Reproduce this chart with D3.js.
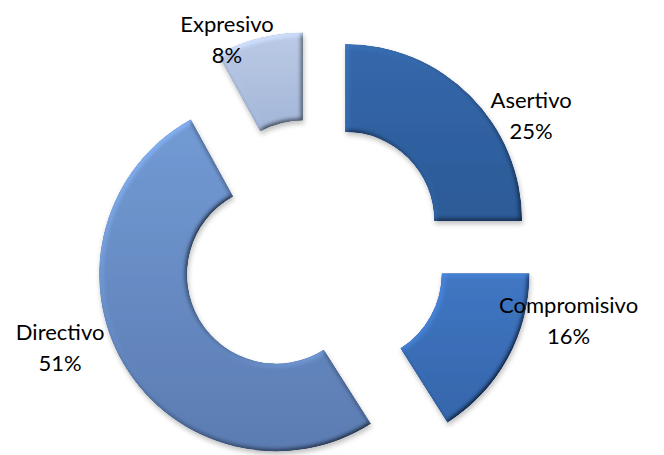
<!DOCTYPE html>
<html>
<head>
<meta charset="utf-8">
<script src="https://cdn.jsdelivr.net/npm/d3@7"></script>
<style>
  html, body { margin: 0; padding: 0; background: #ffffff; }
  svg { display: block; }
  text { font-family: Lato, "Open Sans", sans-serif; fill: #000; }
</style>
</head>
<body>
<svg id="chart" width="664" height="455"></svg>
<script>
// Estilos de comunicación: share of each style
const categories = ["Asertivo", "Compromisivo", "Directivo", "Expresivo"];
const values = [25, 16, 51, 8];
const percentLabels = ["25%", "16%", "51%", "8%"];

// Fill colours per slice (top, bottom of the gradient)
const colorsTop = ["#3568ab", "#4077c4", "#739bd5", "#bccbe6"];
const colorsBottom = ["#2c5a97", "#3566ab", "#5b7cb2", "#a2b6d8"];

// Layout
const width = 664, height = 455;
const cx = 314, cy = 252;
const outerR = 177, innerR = 89;
const explode = 44;
// Label anchor offsets (first baseline), relative to each slice's own centre
const labelOffsets = [[186, -113], [216, 40], [-216, 66], [-76, -177]];
const lineGap = 31;

const svg = d3.select("#chart");
const defs = svg.append("defs");

// Bevel + soft drop shadow
const f = defs.append("filter")
  .attr("id", "bevel")
  .attr("x", "-20%").attr("y", "-20%")
  .attr("width", "140%").attr("height", "140%");
f.append("feGaussianBlur").attr("in", "SourceAlpha").attr("stdDeviation", 2.4).attr("result", "blur");
f.append("feOffset").attr("in", "blur").attr("dx", 1).attr("dy", 3).attr("result", "offBlur");
f.append("feFlood").attr("flood-color", "#000").attr("flood-opacity", 0.25).attr("result", "shCol");
f.append("feComposite").attr("in", "shCol").attr("in2", "offBlur").attr("operator", "in").attr("result", "shadow");
const light = f.append("feDiffuseLighting")
  .attr("in", "blur").attr("surfaceScale", 3).attr("diffuseConstant", 1)
  .attr("lighting-color", "#fff").attr("result", "diffuse");
light.append("feDistantLight").attr("azimuth", 225).attr("elevation", 50);
f.append("feComposite")
  .attr("in", "SourceGraphic").attr("in2", "diffuse")
  .attr("operator", "arithmetic")
  .attr("k1", 1.3).attr("k2", 0).attr("k3", 0).attr("k4", 0)
  .attr("result", "lit");
f.append("feComposite").attr("in", "lit").attr("in2", "SourceAlpha").attr("operator", "in").attr("result", "litIn");
const merge = f.append("feMerge");
merge.append("feMergeNode").attr("in", "shadow");
merge.append("feMergeNode").attr("in", "litIn");

categories.forEach((c, i) => {
  const g = defs.append("linearGradient")
    .attr("id", "grad" + i)
    .attr("x1", 0).attr("y1", 0).attr("x2", 0).attr("y2", 1);
  g.append("stop").attr("offset", "0%").attr("stop-color", colorsTop[i]);
  g.append("stop").attr("offset", "100%").attr("stop-color", colorsBottom[i]);
});

const pie = d3.pie().sort(null).value(d => d.value).startAngle(0).endAngle(2 * Math.PI);
const arc = d3.arc().innerRadius(innerR).outerRadius(outerR);

const data = categories.map((c, i) => ({ name: c, value: values[i], label: percentLabels[i], idx: i }));
const arcs = pie(data);

function sliceCentre(a) {
  const mid = (a.startAngle + a.endAngle) / 2;
  return [cx + explode * Math.sin(mid), cy - explode * Math.cos(mid)];
}

const slices = svg.append("g").selectAll("g.slice")
  .data(arcs)
  .join("g")
  .attr("class", "slice")
  .attr("transform", d => {
    const [x, y] = sliceCentre(d);
    return `translate(${x},${y})`;
  });

slices.append("path")
  .attr("d", arc)
  .attr("fill", d => `url(#grad${d.data.idx})`)
  .attr("filter", "url(#bevel)");

// Data labels: category name and percentage on two lines
const labels = svg.append("g").selectAll("text")
  .data(arcs)
  .join("text")
  .attr("text-anchor", "middle")
  .attr("font-size", 22)
  .attr("transform", d => {
    const [x, y] = sliceCentre(d);
    const o = labelOffsets[d.data.idx];
    return `translate(${x + o[0]},${y + o[1]})`;
  });
labels.append("tspan").attr("x", 0).attr("y", 0).text(d => d.data.name);
labels.append("tspan").attr("x", 0).attr("y", lineGap).text(d => d.data.label);
</script>
</body>
</html>
